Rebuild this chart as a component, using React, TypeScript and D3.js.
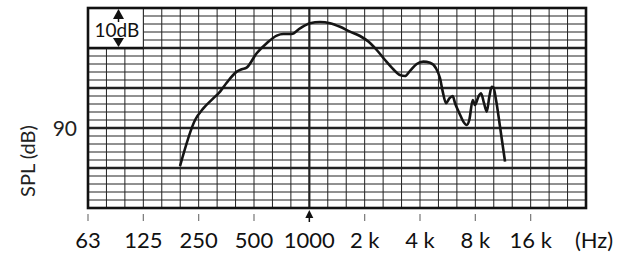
import React, { useEffect, useRef } from 'react';
import * as d3 from 'd3';

// frequency response (Hz, dB SPL)
const freqs = [198, 239, 265, 300, 327, 355, 403, 429, 456, 517, 586, 665, 722, 802, 890, 1008, 1143, 1296, 1469, 1664, 1887, 2094, 2326, 2581, 2864, 3114, 3314, 3531, 3839, 4170, 4536, 4890, 5142, 5318, 5542, 5777, 6025, 6205, 6548, 6882, 7181, 7418, 7743, 7967, 8306, 8594, 8919, 9229, 9532, 9824, 10020, 10370, 10900, 11605];
const spl = [80.5, 92, 94.9, 97.4, 99.1, 101.3, 104.1, 104.7, 105.1, 108.7, 111.2, 113.1, 113.5, 113.5, 114.9, 116.2, 116.5, 116.2, 115.3, 114.1, 113, 111.6, 109.5, 107, 104.7, 103.25, 103, 104.3, 106, 106.6, 106.3, 104.9, 102.4, 99.1, 96.2, 97.4, 98, 96.2, 93.7, 91.6, 90.75, 92, 97, 95.75, 97.8, 98.7, 96.2, 94.1, 97.8, 100.3, 100.2, 97, 90.3, 81.6];

const freqTicks = [63, 125, 250, 500, 1000, 2000, 4000, 8000, 16000];
const freqLabels = ['63', '125', '250', '500', '1000', '2 k', '4 k', '8 k', '16 k'];
const splTicks = [90];

const W = 635, H = 257;
const m = { left: 88, top: 8, right: 586, bottom: 208 };
const font = 'Lato, "Open Sans", sans-serif';

export default function App() {
  const ref = useRef<SVGSVGElement>(null);

  useEffect(() => {
    document.body.style.margin = '0';
    const svg = d3.select(ref.current);
    svg.selectAll('*').remove();

    const x = d3.scaleLog().domain([62.5, 32000]).range([m.left, m.right]);
    const y = d3.scaleLinear().domain([70, 120]).range([m.bottom, m.top]);

    const g = svg.append('g');

    // white paper
    g.append('rect').attr('x', m.left).attr('y', m.top)
      .attr('width', m.right - m.left).attr('height', m.bottom - m.top).attr('fill', '#fff');

    // third-octave verticals
    const thirds = d3.range(1, 27).map(i => 62.5 * Math.pow(2, i / 3));
    g.selectAll('line.v').data(thirds).enter().append('line')
      .attr('x1', d => x(d)).attr('x2', d => x(d))
      .attr('y1', m.top).attr('y2', m.bottom)
      .attr('stroke', '#222').attr('stroke-width', d => Math.abs(d - 1000) < 1 ? 2.2 : 1);

    // 2 dB horizontals
    const rows = d3.range(72, 120, 2);
    g.selectAll('line.h').data(rows).enter().append('line')
      .attr('x1', m.left).attr('x2', m.right)
      .attr('y1', d => y(d)).attr('y2', d => y(d))
      .attr('stroke', '#222').attr('stroke-width', d => d % 10 === 0 ? 2.4 : 1);

    // 10 dB scale box
    g.append('rect').attr('x', m.left).attr('y', m.top)
      .attr('width', x(125) - m.left).attr('height', y(110) - m.top)
      .attr('fill', '#fff');
    g.append('line').attr('x1', x(125)).attr('x2', x(125))
      .attr('y1', m.top).attr('y2', y(110)).attr('stroke', '#222').attr('stroke-width', 1);
    g.append('line').attr('x1', m.left).attr('x2', x(125))
      .attr('y1', y(110)).attr('y2', y(110)).attr('stroke', '#111').attr('stroke-width', 2.4);
    const ax = 118.5;
    g.append('path').attr('d', `M${ax},${m.top + 1}L${ax + 5.5},${m.top + 11}L${ax - 5.5},${m.top + 11}Z`).attr('fill', '#111');
    g.append('line').attr('x1', ax).attr('x2', ax).attr('y1', m.top + 10).attr('y2', m.top + 14).attr('stroke', '#111').attr('stroke-width', 1.5);
    g.append('path').attr('d', `M${ax},${y(110) - 1}L${ax + 5.5},${y(110) - 10}L${ax - 5.5},${y(110) - 10}Z`).attr('fill', '#111');
    g.append('text').attr('x', 117).attr('y', 37).attr('text-anchor', 'middle')
      .attr('font-family', font).attr('font-size', 19).attr('fill', '#111').text('10dB');

    // frame
    g.append('rect').attr('x', m.left).attr('y', m.top)
      .attr('width', m.right - m.left).attr('height', m.bottom - m.top)
      .attr('fill', 'none').attr('stroke', '#111').attr('stroke-width', 2.6);

    // response curve
    const pts = freqs.map((f, i) => [f, spl[i]] as [number, number]);
    const line = d3.line<[number, number]>().x(d => x(d[0])).y(d => y(d[1])).curve(d3.curveMonotoneX);
    g.append('path').attr('d', line(pts) as string)
      .attr('fill', 'none').attr('stroke', '#151515').attr('stroke-width', 2.6)
      .attr('stroke-linejoin', 'round');

    // x axis ticks and labels
    freqTicks.forEach((f, i) => {
      const px = x(f === 63 ? 62.5 : f);
      if (f === 1000) {
        g.append('path').attr('d', `M${px},${m.bottom + 2}L${px + 4},${m.bottom + 10}L${px - 4},${m.bottom + 10}Z`).attr('fill', '#111');
        g.append('line').attr('x1', px).attr('x2', px).attr('y1', m.bottom + 9).attr('y2', m.bottom + 14).attr('stroke', '#111').attr('stroke-width', 1.5);
      } else {
        g.append('line').attr('x1', px).attr('x2', px).attr('y1', 214).attr('y2', 221)
          .attr('stroke', '#777').attr('stroke-width', 1.2);
      }
      g.append('text').attr('x', px).attr('y', 248).attr('text-anchor', 'middle')
        .attr('font-family', font).attr('font-size', 22).attr('fill', '#111').text(freqLabels[i]);
    });
    g.append('text').attr('x', 594).attr('y', 248).attr('text-anchor', 'middle')
      .attr('font-family', font).attr('font-size', 22).attr('fill', '#111').text('(Hz)');

    // y axis
    splTicks.forEach(v => {
      g.append('text').attr('x', 77).attr('y', y(v) + 8).attr('text-anchor', 'end')
        .attr('font-family', font).attr('font-size', 21).attr('fill', '#222').text(String(v));
    });
    g.append('text').attr('transform', 'translate(27,161) rotate(-90)')
      .attr('text-anchor', 'middle').attr('dominant-baseline', 'central')
      .attr('font-family', font).attr('font-size', 20).attr('fill', '#222').text('SPL (dB)');
  }, []);

  return <svg ref={ref} width={W} height={H} style={{ display: 'block' }} />;
}
